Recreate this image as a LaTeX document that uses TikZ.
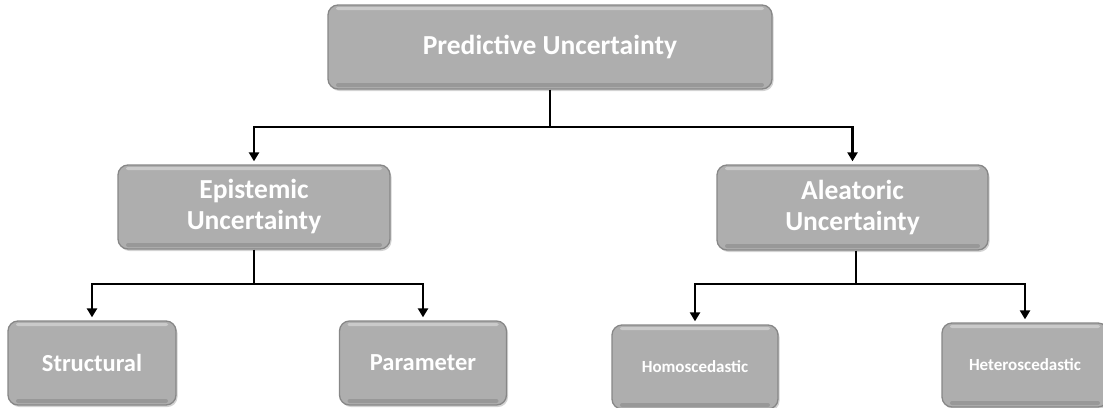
\documentclass[tikz,border=0pt]{standalone}
\usepackage{fontspec}
\setmainfont{Carlito}
\usetikzlibrary{arrows.meta,shadows}
\definecolor{boxgray}{RGB}{174,174,174}
\definecolor{boxedge}{RGB}{135,135,135}
\tikzset{
  box/.style={rounded corners=10pt, fill=boxgray, draw=boxedge, line width=1.3pt,
    text=white, font=\bfseries, align=center, inner sep=0pt,
    drop shadow={shadow xshift=1.5pt, shadow yshift=-2pt, opacity=0.35},
    path picture={
      \fill[white,opacity=0.35,rounded corners=2pt]
        ([xshift=8pt,yshift=-2pt]path picture bounding box.north west)
        rectangle ([xshift=-8pt,yshift=-5pt]path picture bounding box.north east);
      \fill[black,opacity=0.12,rounded corners=2pt]
        ([xshift=8pt,yshift=2pt]path picture bounding box.south west)
        rectangle ([xshift=-8pt,yshift=6pt]path picture bounding box.south east);
    }},
  link/.style={line width=2.6pt},
  arr/.style={link, -{Triangle[width=10pt,length=9pt]}, shorten >=3pt},
  lvltop/.style={box, font=\fontsize{27.5}{31}\selectfont\bfseries},
  lvlone/.style={box, font=\fontsize{27.5}{31}\selectfont\bfseries},
  lvltwo/.style={box, font=\fontsize{24.5}{28}\selectfont\bfseries},
  lvlthree/.style={box, font=\fontsize{17}{20}\selectfont\bfseries}
}
\begin{document}
\begin{tikzpicture}[x=1pt,y=-1pt]
\useasboundingbox (0,0) rectangle (1103,407);
\node[lvltop, minimum width=444pt, minimum height=84pt] (top) at (550,47) {Predictive Uncertainty};
\node[lvlone, minimum width=272pt, minimum height=84pt] (epi) at (254,207) {Epistemic\\Uncertainty};
\node[lvlone, minimum width=271pt, minimum height=85pt] (ale) at (852.5,207.5) {Aleatoric\\Uncertainty};
\node[lvltwo, minimum width=168pt, minimum height=84pt] (str) at (92,363) {Structural};
\node[lvltwo, minimum width=167pt, minimum height=84pt] (par) at (423,363) {Parameter};
\node[lvlthree, minimum width=166pt, minimum height=84pt] (hom) at (695,367) {Homoscedastic};
\node[lvlthree, minimum width=166pt, minimum height=84pt] (het) at (1025,365) {Heteroscedastic};
\coordinate (tj) at (550,127);
\coordinate (ej) at (254,284);
\coordinate (aj) at (856,284);
\draw[link] (top.south) -- (tj);
\draw[arr] (tj) -| (epi.north);
\draw[arr] (tj) -| (ale.north);
\draw[link] (epi.south) -- (ej);
\draw[arr] (ej) -| (str.north);
\draw[arr] (ej) -| (par.north);
\draw[link] (ale.south -| aj) -- (aj);
\draw[arr] (aj) -| (hom.north);
\draw[arr] (aj) -| (het.north);
\end{tikzpicture}
\end{document}
